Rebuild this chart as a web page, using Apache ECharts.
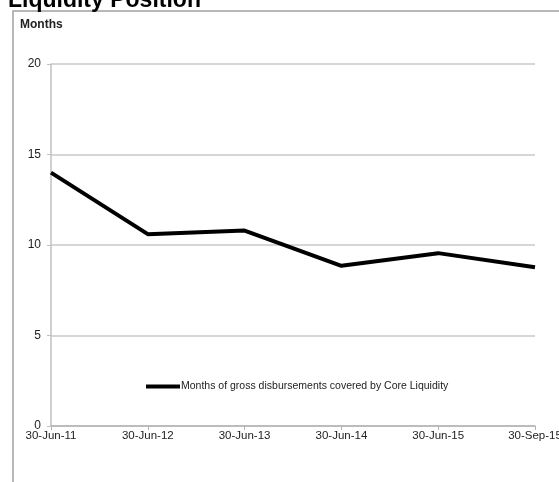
<!DOCTYPE html>
<html>
<head>
<meta charset="utf-8">
<script src="https://cdn.jsdelivr.net/npm/echarts@6/dist/echarts.min.js"></script>
<style>
  html, body { margin: 0; padding: 0; background: #fff; }
  #main { width: 559px; height: 482px; }
</style>
</head>
<body>
<div id="main"></div>
<script>
// Liquidity position: months of gross disbursements covered by core liquidity
var dates = ['30-Jun-11', '30-Jun-12', '30-Jun-13', '30-Jun-14', '30-Jun-15', '30-Sep-15'];
var months = [14.0, 10.6, 10.8, 8.85, 9.55, 8.77];
var yTicks = [0, 5, 10, 15, 20];

var narrow = '"Liberation Sans Narrow", "Arial Narrow", "Liberation Sans", sans-serif';

var chart = echarts.init(document.getElementById('main'));
chart.setOption({
  animation: false,
  title: {
    text: 'Liquidity Position',
    left: 3,
    top: -16,
    textStyle: { fontFamily: '"Liberation Sans", Arial, sans-serif', fontWeight: 'bold', fontSize: 23, color: '#000' }
  },
  graphic: [
    {
      type: 'rect',
      shape: { x: 13, y: 11, width: 600, height: 500 },
      style: { fill: 'none', stroke: '#a0a0a0', lineWidth: 1.5 },
      silent: true
    },
    {
      type: 'text',
      left: 20,
      top: 19,
      style: { text: 'Months', font: 'bold 12px ' + narrow, fill: '#222' }
    }
  ],
  legend: {
    left: 141,
    top: 376,
    itemWidth: 34,
    itemHeight: 4,
    itemGap: 0,
    textStyle: { fontFamily: narrow, fontSize: 10.5, color: '#222', padding: [0, 0, 0, -4] },
    data: [{ name: 'Months of gross disbursements covered by Core Liquidity', icon: 'rect' }]
  },
  grid: { left: 51, right: 24, top: 64, bottom: 56, outerBoundsMode: 'none' },
  xAxis: {
    type: 'category',
    boundaryGap: false,
    data: dates,
    axisLine: { lineStyle: { color: '#b4b4b4', width: 1.5 } },
    axisTick: { show: true, length: 4, lineStyle: { color: '#b4b4b4' } },
    axisLabel: { fontFamily: narrow, fontSize: 11.5, color: '#222', margin: 4 }
  },
  yAxis: {
    type: 'value',
    min: yTicks[0],
    max: yTicks[yTicks.length - 1],
    interval: 5,
    axisLine: { show: true, lineStyle: { color: '#c0c0c0', width: 1.5 } },
    axisTick: { show: true, length: 4, lineStyle: { color: '#c0c0c0' } },
    axisLabel: { fontFamily: narrow, fontSize: 12, color: '#222', margin: 10 },
    splitLine: { lineStyle: { color: '#c8c8c8', width: 1.5 } }
  },
  series: [{
    name: 'Months of gross disbursements covered by Core Liquidity',
    type: 'line',
    data: months,
    showSymbol: false,
    symbol: 'none',
    lineStyle: { color: '#000', width: 4 },
    itemStyle: { color: '#000' }
  }]
});
</script>
</body>
</html>
